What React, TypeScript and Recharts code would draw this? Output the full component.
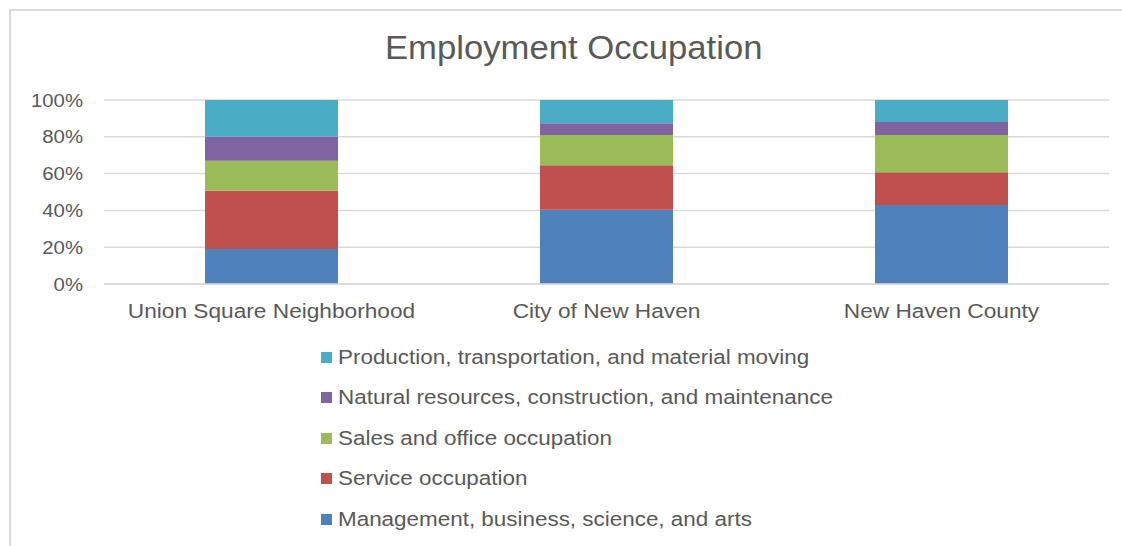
import { BarChart, Bar, XAxis, YAxis, CartesianGrid, Legend } from "recharts";

const AREAS = ["Union Square Neighborhood", "City of New Haven", "New Haven County"];

const management = [19.0, 40.4, 42.9];
const service = [31.7, 24.1, 17.8];
const sales = [16.3, 16.5, 20.3];
const natural = [13.1, 6.3, 7.0];
const production = [19.9, 12.7, 12.0];

const Y_TICKS = [0, 20, 40, 60, 80, 100];

const SERIES = [
  { key: "management", name: "Management, business, science, and arts", color: "#4f81bd" },
  { key: "service", name: "Service occupation", color: "#c0504d" },
  { key: "sales", name: "Sales and office occupation", color: "#9bbb59" },
  { key: "natural", name: "Natural resources, construction, and maintenance", color: "#8064a2" },
  { key: "production", name: "Production, transportation, and material moving", color: "#4bacc6" },
];

const FONT = "'Liberation Sans', Arial, sans-serif";
const TEXT = "#595959";

const data = AREAS.map((area, i) => ({
  area,
  management: management[i],
  service: service[i],
  sales: sales[i],
  natural: natural[i],
  production: production[i],
}));

// reference text is a bit wider than Liberation Sans, stretch it horizontally
function XTick({ x, y, payload }: any) {
  return (
    <text
      transform={`translate(${x},${y}) scale(1.08,1)`}
      dy="0.71em"
      textAnchor="middle"
      fill={TEXT}
      fontSize={21}
      fontFamily={FONT}
    >
      {payload.value}
    </text>
  );
}

function YTick({ x, y, payload }: any) {
  return (
    <text
      transform={`translate(${x},${y}) scale(1.1,1)`}
      dy="0.355em"
      textAnchor="end"
      fill={TEXT}
      fontSize={18.5}
      fontFamily={FONT}
    >
      {`${payload.value}%`}
    </text>
  );
}

function LegendList({ payload }: any) {
  const byName: Record<string, any> = {};
  (payload || []).forEach((p: any) => (byName[p.value] = p));
  const items = [...SERIES].reverse().map((s) => ({ value: s.name, color: byName[s.name]?.color || s.color }));
  return (
    <div style={{ fontFamily: FONT, fontSize: 19.5, color: TEXT }}>
      {items.map((p) => (
        <div key={p.value} style={{ height: 40.5, display: "flex", alignItems: "center" }}>
          <span style={{ width: 11, height: 11, background: p.color, marginRight: 6, display: "inline-block" }} />
          <span style={{ display: "inline-block", transform: "scaleX(1.15)", transformOrigin: "left center", whiteSpace: "nowrap" }}>
            {p.value}
          </span>
        </div>
      ))}
    </div>
  );
}

export default function App() {
  return (
    <div style={{ position: "absolute", left: 0, top: 0, width: 1122, height: 546, background: "#fff", overflow: "hidden" }}>
      <div
        style={{
          position: "absolute",
          left: 9,
          top: 9,
          width: 1122,
          height: 546,
          borderTop: "2px solid #d9d9d9",
          borderLeft: "2px solid #d9d9d9",
        }}
      />
      <div
        style={{
          position: "absolute",
          left: 0,
          width: 1148,
          top: 29,
          textAlign: "center",
          fontFamily: FONT,
          fontSize: 33,
          color: TEXT,
        }}
      >
        <span style={{ display: "inline-block", transform: "scaleX(1.05)" }}>Employment Occupation</span>
      </div>
      <div style={{ position: "absolute", left: 0, top: 0 }}>
        <BarChart
          width={1122}
          height={546}
          data={data}
          margin={{ top: 100, right: 13, bottom: 212, left: 0 }}
        >
          <CartesianGrid vertical={false} stroke="#d9d9d9" strokeWidth={1.5} />
          <XAxis
            dataKey="area"
            tickSize={0}
            tickMargin={19}
            axisLine={{ stroke: "#d9d9d9", strokeWidth: 1.5 }}
            tick={<XTick />}
            height={50}
          />
          <YAxis
            width={104}
            domain={[0, 100]}
            ticks={Y_TICKS}
            tickSize={0}
            tickMargin={21}
            axisLine={false}
            tick={<YTick />}
          />
          <Legend
            layout="vertical"
            align="center"
            verticalAlign="middle"
            content={<LegendList />}
            wrapperStyle={{ left: 321, top: 337, width: 600, height: 210 }}
          />
          {SERIES.map((s) => (
            <Bar
              key={s.key}
              dataKey={s.key}
              name={s.name}
              stackId="a"
              fill={s.color}
              barSize={133}
              isAnimationActive={false}
            />
          ))}
        </BarChart>
      </div>
    </div>
  );
}
